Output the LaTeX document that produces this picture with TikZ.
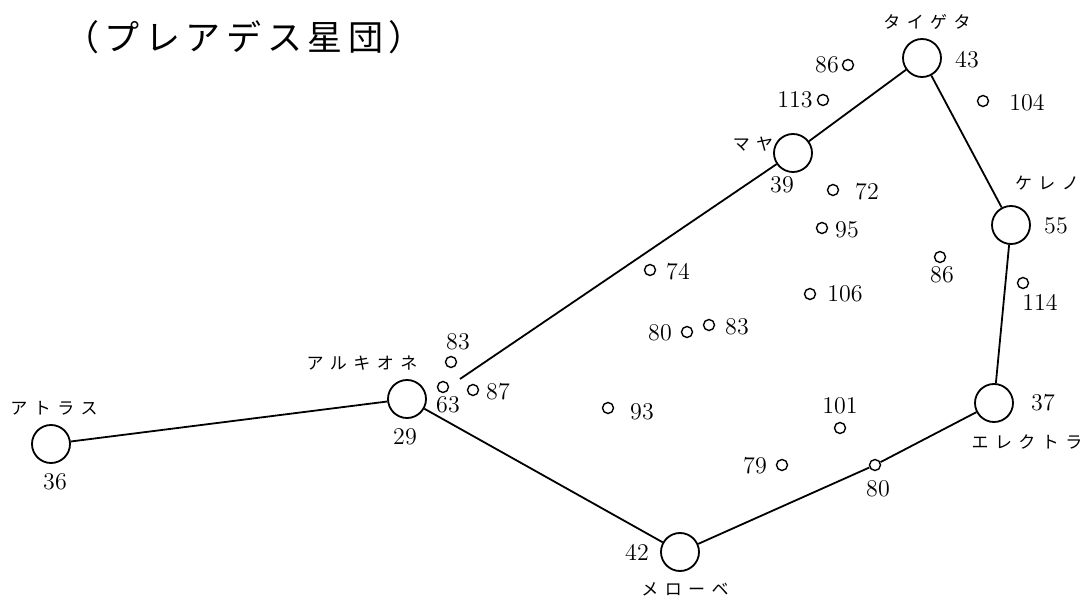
\documentclass[tikz,border=0pt]{standalone}
\usepackage{fontspec}
\newfontfamily\jpname[LetterSpace=38]{Noto Sans CJK JP}
\newfontfamily\jptitle[LetterSpace=16]{Noto Sans CJK JP}
\usetikzlibrary{positioning}

\begin{document}
\begin{tikzpicture}[x=0.5pt,y=-0.5pt,
    bright/.style={draw,circle,line width=0.9pt,minimum size=19pt,inner sep=0pt},
    faint/.style={draw,circle,line width=0.7pt,minimum size=5.5pt,inner sep=0pt},
    num/.style={inner sep=0pt,font=\fontsize{12}{14}\selectfont},
    kana/.style={inner sep=0pt,font=\jpname\fontsize{8.5}{10}\selectfont},
    link/.style={line width=0.9pt}]
\useasboundingbox (0,0) rectangle (1084,599);

\node[inner sep=0pt,font=\jptitle\fontsize{17.5}{20}\selectfont] (title) at (244,37) {（プレアデス星団）};

% the bright stars
\node[bright] (atlas)   at (51,444)  {};
\node[bright] (alcyone) at (407,399) {};
\node[bright] (merope)  at (680,552) {};
\node[bright] (electra) at (994,403) {};
\node[bright] (celaeno) at (1011,225) {};
\node[bright] (taygeta) at (922,58)  {};
\node[bright] (maia)    at (793,153) {};

\node[kana] (atlasname)   at (54,408)   {アトラス};
\node[kana] (alcyonename) at (362,363)  {アルキオネ};
\node[kana] (meropename)  at (685,589)  {メローベ};
\node[kana] (electraname) at (1027,442) {エレクトラ};
\node[kana] (celaenoname) at (1047,183) {ケレノ};
\node[kana] (taygetaname) at (927,22)   {タイゲタ};
\node[kana] (maianame)    at (753,144)  {マヤ};

\node[num] (atlasnum)   at (55,482)   {36};
\node[num] (alcyonenum) at (405,437)  {29};
\node[num] (meropenum)  at (637,552)  {42};
\node[num] (electranum) at (1043,403) {37};
\node[num] (celaenonum) at (1056,226) {55};
\node[num] (taygetanum) at (967,60)   {43};
\node[num] (maianum)    at (782,185)  {39};

% the faint stars
\node[faint] (s83a) at (451,362) {};  \node[num] (n83a) at (458,342) {83};
\node[faint] (s63)  at (443,387) {};  \node[num] (n63)  at (448,405) {63};
\node[faint] (s87)  at (473,390) {};  \node[num] (n87)  at (498,392) {87};
\node[faint] (s74)  at (650,270) {};  \node[num] (n74)  at (678,272) {74};
\node[faint] (s80a) at (687,332) {};  \node[num] (n80a) at (660,333) {80};
\node[faint] (s83b) at (709,325) {};  \node[num] (n83b) at (737,327) {83};
\node[faint] (s93)  at (608,408) {};  \node[num] (n93)  at (642,412) {93};
\node[faint] (s79)  at (782,465) {};  \node[num] (n79)  at (755,466) {79};
\node[faint] (s80)  at (875,465) {};  \node[num] (n80)  at (878,489) {80};
\node[faint] (s101) at (840,428) {};  \node[num] (n101) at (840,406) {101};
\node[faint] (s106) at (810,294) {};  \node[num] (n106) at (845,294) {106};
\node[faint] (s95)  at (822,228) {};  \node[num] (n95)  at (847,230) {95};
\node[faint] (s72)  at (833,190) {};  \node[num] (n72)  at (867,192) {72};
\node[faint] (s86a) at (940,257) {};  \node[num] (n86a) at (942,275) {86};
\node[faint] (s114) at (1023,283) {}; \node[num] (n114) at (1040,302) {114};
\node[faint] (s113) at (823,100) {};  \node[num] (n113) at (795,100) {113};
\node[faint] (s86b) at (848,65) {};   \node[num] (n86b) at (827,65)  {86};
\node[faint] (s104) at (983,101) {};  \node[num] (n104) at (1027,103) {104};

% the links
\coordinate (gap) at (460,379);
\draw[link] (atlas) -- (alcyone);
\draw[link] (alcyone) -- (merope);
\draw[link] (merope) -- (s80) -- (electra);
\draw[link] (electra) -- (celaeno);
\draw[link] (celaeno) -- (taygeta);
\draw[link] (taygeta) -- (maia);
\draw[link] (gap) -- (maia);
\end{tikzpicture}
\end{document}
